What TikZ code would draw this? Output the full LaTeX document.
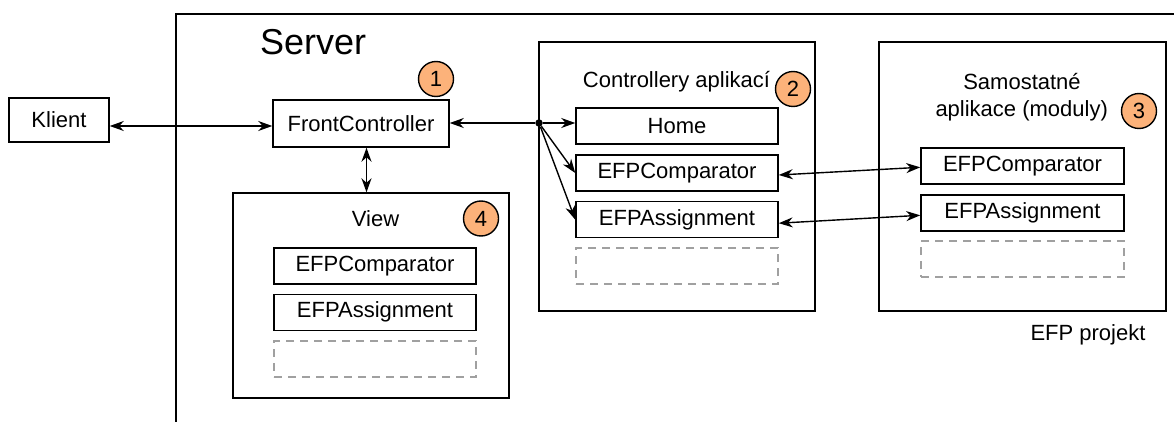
\documentclass[tikz,border=0pt]{standalone}
\usepackage{fontspec}
\setmainfont{Liberation Sans}
\usetikzlibrary{arrows.meta}
\definecolor{badgefill}{RGB}{252,178,122}
\definecolor{slotgray}{RGB}{160,160,160}
\begin{document}
\begin{tikzpicture}[x=1pt,y=-1pt,
  txt/.style={font=\fontsize{22}{26}\selectfont, inner sep=0pt},
  frame/.style={draw, line width=1.4pt, inner sep=0pt},
  item/.style={draw, line width=1.5pt, inner sep=0pt, minimum width=202pt, minimum height=36pt, font=\fontsize{22}{26}\selectfont},
  slot/.style={draw=slotgray, dash pattern=on 8pt off 6pt, line width=1.4pt, minimum width=202pt, minimum height=36pt, inner sep=0pt},
  badge/.style={circle, draw, line width=1.4pt, fill=badgefill, minimum size=35pt, inner sep=0pt, font=\fontsize{22}{26}\selectfont},
  conn/.style={line width=1.4pt, >={Stealth[length=14pt,width=10pt,inset=4.5pt]}},
]
\useasboundingbox (0,0) rectangle (1174,422);

% server frame, running past the right and bottom edges
\draw[line width=1.4pt] (176,440) -- (176,14) -- (1200,14);
\node[txt, font=\fontsize{36}{40}\selectfont, anchor=base west] (servertitle) at (260,55) {Server};

% client and front controller
\node[item, minimum width=100pt, minimum height=44pt] (klient) at (59,120) {Klient};
\node[item, minimum width=176pt, minimum height=47pt] (fc) at (361,123.5) {FrontController};
\node[badge] (b1) at (436,79) {1};

% view container
\node[frame, minimum width=276pt, minimum height=205pt] (view) at (371,295.5) {};
\node[txt, anchor=base] (viewlbl) at (375.6,226.7) {View};
\node[badge] (b4) at (481,218.5) {4};
\node[item] (v1) at (375,266) {EFPComparator};
\node[item] (v2) at (375,312.3) {EFPAssignment};
\node[slot] (v3) at (375,359) {};

% application controllers container
\node[frame, minimum width=276pt, minimum height=269pt] (ctrl) at (677,176.5) {};
\node[txt, anchor=base] (ctrllbl) at (676.5,87.3) {Controllery aplikací};
\node[badge] (b2) at (793,89) {2};
\node[item] (home) at (677,126) {Home};
\node[item] (c1) at (677,173) {EFPComparator};
\node[item] (c2) at (677,219.7) {EFPAssignment};
\node[slot] (c3) at (677,266) {};

% standalone modules container
\node[frame, minimum width=287pt, minimum height=269pt] (mods) at (1022.5,176.5) {};
\node[txt, anchor=base] (modslbl1) at (1022,90) {Samostatné};
\node[txt, anchor=base] (modslbl2) at (1021.7,116.5) {aplikace (moduly)};
\node[badge] (b3) at (1139,111) {3};
\node[item, minimum width=203pt] (m1) at (1022.5,166) {EFPComparator};
\node[item, minimum width=203pt] (m2) at (1022.5,213) {EFPAssignment};
\node[slot, minimum width=203pt] (m3) at (1022.5,259) {};
\node[txt, anchor=base] (projlbl) at (1088,340.7) {EFP projekt};

% dispatch point on the controllers' border
\node[circle, fill, inner sep=0pt, minimum size=7.5pt] (hub) at (539,123) {};

% connectors
\draw[conn,<->] ([yshift=-6pt]klient.east) -- ([yshift=-2.5pt]fc.west);
\draw[conn,<-] (fc.east |- hub) -- (hub);
\draw[conn,<->] ([xshift=5.5pt]fc.south) -- ([xshift=5.5pt]fc.south |- view.north);
\draw[conn,->] (hub) -- (home.west |- hub);
\draw[conn,->] (hub) -- (c1.west);
\draw[conn,->] (hub) -- (c2.west);
\draw[conn,<->] ([yshift=-2pt]c1.east) -- ([yshift=-1.3pt]m1.west);
\draw[conn,<->] ([yshift=-3.5pt]c2.east) -- ([yshift=-2.3pt]m2.west);
\end{tikzpicture}
\end{document}
